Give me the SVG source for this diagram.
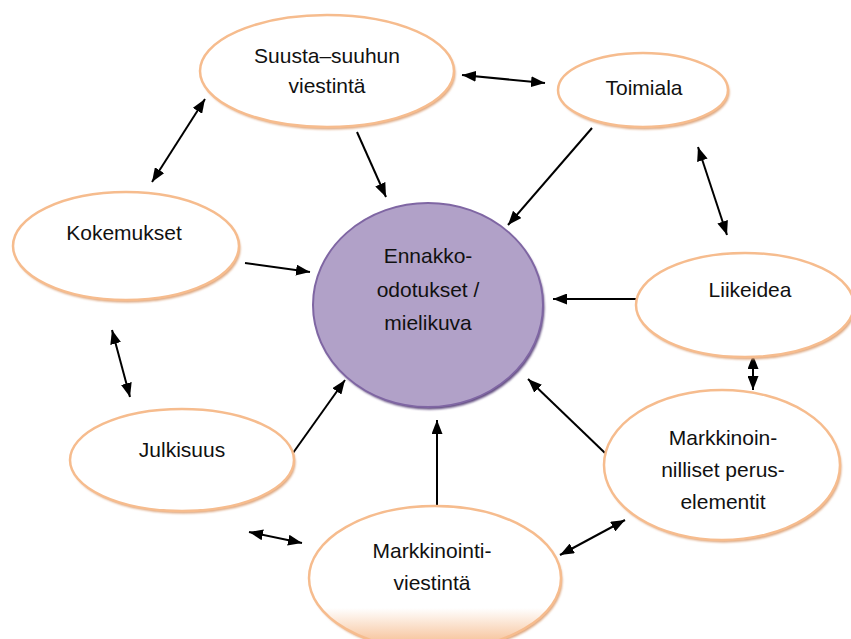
<svg xmlns="http://www.w3.org/2000/svg" width="851" height="639" viewBox="0 0 851 639">
  <defs>
    <style>
      .bg { fill: #ffffff; }
      .node-shadow { fill: #DDA67E; filter: url(#soft); }
      .node { fill: #ffffff; stroke: #F6BC8E; stroke-width: 2.5; }
      .hub-shadow { fill: #5E4A7E; filter: url(#soft); }
      .hub { fill: #B1A1C8; stroke: #7F66A3; stroke-width: 2; }
      .label { font-family: "Liberation Sans", Arial, sans-serif; font-size: 21px; fill: #111111; text-anchor: middle; }
      .link { stroke: #000000; stroke-width: 2; fill: none; }
      .one { marker-end: url(#head); }
      .two { marker-start: url(#tail); marker-end: url(#head); }
    </style>
    <filter id="soft" x="-10%" y="-10%" width="120%" height="120%">
      <feGaussianBlur stdDeviation="0.8"/>
    </filter>
    <marker id="head" viewBox="0 0 14 11" refX="14" refY="5.5" markerWidth="14" markerHeight="11" markerUnits="userSpaceOnUse" orient="auto">
      <path d="M0,0 L14,5.5 L0,11 Z" fill="#000000"/>
    </marker>
    <marker id="tail" viewBox="0 0 14 11" refX="0" refY="5.5" markerWidth="14" markerHeight="11" markerUnits="userSpaceOnUse" orient="auto">
      <path d="M14,0 L0,5.5 L14,11 Z" fill="#000000"/>
    </marker>
    <linearGradient id="fadeBottom" gradientUnits="userSpaceOnUse" x1="0" y1="608" x2="0" y2="642">
      <stop offset="0" stop-color="#ffffff"/>
      <stop offset="1" stop-color="#F7C49C"/>
    </linearGradient>
  </defs>

  <rect class="bg" x="0" y="0" width="851" height="639"/>

  <!-- connectors -->
  <g id="connectors">
    <line class="link two" x1="205" y1="99" x2="152" y2="182"/>
    <line class="link one" x1="357" y1="132" x2="386" y2="197"/>
    <line class="link two" x1="462" y1="75" x2="545" y2="83"/>
    <line class="link one" x1="592" y1="128" x2="508" y2="225"/>
    <line class="link two" x1="698" y1="147" x2="727" y2="235"/>
    <line class="link one" x1="245" y1="263" x2="310" y2="272"/>
    <line class="link one" x1="638" y1="299" x2="553" y2="299"/>
    <line class="link two" x1="753" y1="355" x2="753" y2="390"/>
    <line class="link two" x1="112" y1="330" x2="130" y2="397"/>
    <line class="link one" x1="293" y1="453" x2="345" y2="380"/>
    <line class="link one" x1="437" y1="507" x2="437" y2="420"/>
    <line class="link one" x1="605" y1="453" x2="528" y2="379"/>
    <line class="link two" x1="249" y1="532" x2="302" y2="543"/>
    <line class="link two" x1="560" y1="555" x2="625" y2="520"/>
  </g>

  <g id="hub">
    <ellipse class="hub-shadow" cx="429.5" cy="307.5" rx="115" ry="102"/>
    <ellipse class="hub" cx="428" cy="305" rx="115" ry="102"/>
    <text class="label" x="428" y="263">Ennakko-</text>
    <text class="label" x="428" y="297">odotukset /</text>
    <text class="label" x="428" y="330">mielikuva</text>
  </g>

  <g id="suusta-suuhun">
    <ellipse class="node-shadow" cx="328.5" cy="73.5" rx="127" ry="56"/>
    <ellipse class="node" cx="327" cy="71" rx="127" ry="56"/>
    <text class="label" x="327" y="63">Suusta–suuhun</text>
    <text class="label" x="327" y="93">viestintä</text>
  </g>

  <g id="toimiala">
    <ellipse class="node-shadow" cx="644.5" cy="92.5" rx="85" ry="37"/>
    <ellipse class="node" cx="643" cy="90" rx="85" ry="37"/>
    <text class="label" x="644" y="95">Toimiala</text>
  </g>

  <g id="kokemukset">
    <ellipse class="node-shadow" cx="127.5" cy="248.5" rx="113" ry="54"/>
    <ellipse class="node" cx="126" cy="246" rx="113" ry="54"/>
    <text class="label" x="124" y="240">Kokemukset</text>
  </g>

  <g id="liikeidea">
    <ellipse class="node-shadow" cx="746.5" cy="307.5" rx="109" ry="52"/>
    <ellipse class="node" cx="745" cy="305" rx="109" ry="52"/>
    <text class="label" x="750" y="297">Liikeidea</text>
  </g>

  <g id="julkisuus">
    <ellipse class="node-shadow" cx="183.5" cy="462.5" rx="112" ry="51"/>
    <ellipse class="node" cx="182" cy="460" rx="112" ry="51"/>
    <text class="label" x="182" y="457">Julkisuus</text>
  </g>

  <g id="markkinoinnilliset-peruselementit">
    <ellipse class="node-shadow" cx="723.5" cy="467.5" rx="118" ry="75"/>
    <ellipse class="node" cx="722" cy="465" rx="118" ry="75"/>
    <text class="label" x="723" y="445">Markkinoin-</text>
    <text class="label" x="723" y="477">nilliset perus-</text>
    <text class="label" x="723" y="509">elementit</text>
  </g>

  <g id="markkinointiviestinta">
    <ellipse class="node-shadow" cx="436.5" cy="580.5" rx="126" ry="72"/>
    <ellipse class="node" cx="435" cy="578" rx="126" ry="72" style="fill:url(#fadeBottom)"/>
    <text class="label" x="432" y="558">Markkinointi-</text>
    <text class="label" x="432" y="590">viestintä</text>
  </g>
</svg>
